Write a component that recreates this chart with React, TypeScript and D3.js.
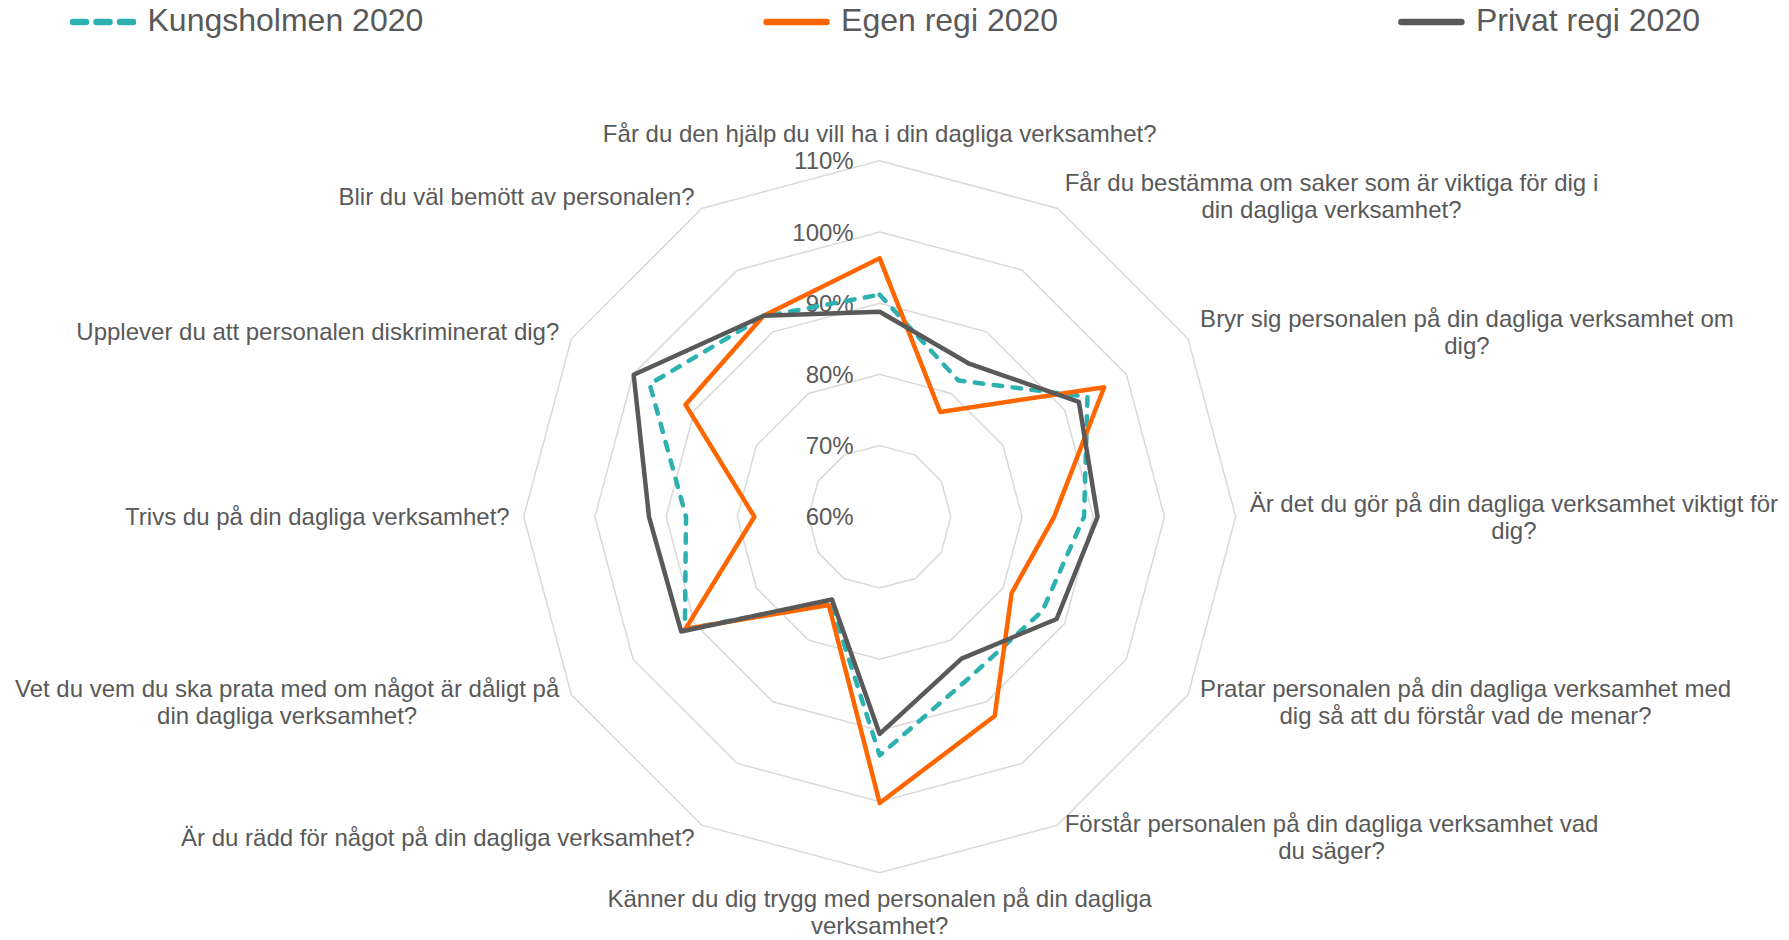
import React, { useEffect, useRef } from "react";
import * as d3 from "d3";

// ---------- data ----------
const categories: string[][] = [
  ["Får du den hjälp du vill ha i din dagliga verksamhet?"],
  ["Får du bestämma om saker som är viktiga för dig i", "din dagliga verksamhet?"],
  ["Bryr sig personalen på din dagliga verksamhet om", "dig?"],
  ["Är det du gör på din dagliga verksamhet viktigt för", "dig?"],
  ["Pratar personalen på din dagliga verksamhet med", "dig så att du förstår vad de menar?"],
  ["Förstår personalen på din dagliga verksamhet vad", "du säger?"],
  ["Känner du dig trygg med personalen på din dagliga", "verksamhet?"],
  ["Är du rädd för något på din dagliga verksamhet?"],
  ["Vet du vem du ska prata med om något är dåligt på", "din dagliga verksamhet?"],
  ["Trivs du på din dagliga verksamhet?"],
  ["Upplever du att personalen diskriminerat dig?"],
  ["Blir du väl bemött av personalen?"],
];

const kungsholmen2020 = [91.2, 82.1, 93.7, 88.7, 86.4, 85.8, 93.5, 73.8, 91.6, 87.2, 97.3, 92.5];
const egenRegi2020 = [96.3, 77.0, 96.4, 84.5, 81.4, 92.3, 100.2, 74.3, 91.5, 77.6, 91.5, 92.6];
const privatRegi2020 = [88.8, 84.9, 92.3, 90.6, 88.7, 83.0, 90.5, 73.4, 92.2, 92.4, 99.9, 92.6];

const seriesNames = ["Kungsholmen 2020", "Egen regi 2020", "Privat regi 2020"];
const tickValues = [60, 70, 80, 90, 100, 110];
const tickLabels = ["60%", "70%", "80%", "90%", "100%", "110%"];

// ---------- style ----------
const W = 1789;
const H = 940;
const CX = 879.7;
const CY = 516.8;
const R = 356;
const FONT = "'Liberation Sans', Arial, sans-serif";
const TEXT = "#595959";
const GRID = "#D9D9D9";
const COLORS = ["#2DB0B0", "#FF6600", "#595959"];
const DASH = ["8.5,10.5", null, null];
const LEGEND_DASH = ["13,10.5", null, null];

export default function App() {
  const ref = useRef<SVGSVGElement | null>(null);

  useEffect(() => {
    const svg = d3.select(ref.current);
    svg.selectAll("*").remove();

    const n = categories.length;
    const step = (2 * Math.PI) / n;
    const r = d3.scaleLinear().domain([60, 110]).range([0, R]);

    svg.append("rect").attr("width", W).attr("height", H).attr("fill", "#fff");

    const g = svg.append("g").attr("transform", `translate(${CX},${CY})`);

    // grid rings
    const ring = d3
      .lineRadial<number>()
      .angle((_, i) => i * step)
      .radius((d) => r(d))
      .curve(d3.curveLinearClosed);

    tickValues
      .filter((t) => t > 60)
      .forEach((t) => {
        g.append("path")
          .attr("d", ring(d3.range(n).map(() => t)) as string)
          .attr("fill", "none")
          .attr("stroke", GRID)
          .attr("stroke-width", 1.5);
      });

    // tick labels
    tickValues.forEach((t, i) => {
      g.append("text")
        .attr("x", -26)
        .attr("y", -r(t))
        .attr("text-anchor", "end")
        .attr("dominant-baseline", "central")
        .attr("font-family", FONT)
        .attr("font-size", 24)
        .attr("fill", TEXT)
        .text(tickLabels[i]);
    });

    // series
    const series = [kungsholmen2020, egenRegi2020, privatRegi2020];
    series.forEach((vals, si) => {
      const p = g
        .append("path")
        .attr("d", ring(vals) as string)
        .attr("fill", "none")
        .attr("stroke", COLORS[si])
        .attr("stroke-width", 4.5)
        .attr("stroke-linejoin", "round")
        .attr("stroke-linecap", si === 0 ? "round" : "butt");
      if (DASH[si]) p.attr("stroke-dasharray", DASH[si] as string);
    });

    // category labels
    const LH = 27;
    const off = R + 14;
    categories.forEach((lines, i) => {
      const a = i * step;
      const s = Math.sin(a);
      const c = Math.cos(a);
      const ax = off * s;
      const ay = -off * c;
      const grp = g.append("g");
      const texts = lines.map((ln) =>
        grp
          .append("text")
          .attr("font-family", FONT)
          .attr("font-size", 24)
          .attr("fill", TEXT)
          .attr("text-anchor", "middle")
          .attr("dominant-baseline", "central")
          .text(ln)
      );
      const w = d3.max(texts, (t) => (t.node() as SVGTextElement).getComputedTextLength()) || 0;
      let xc: number;
      let y0: number;
      if (Math.abs(s) < 0.01) {
        xc = ax;
        y0 = c > 0 ? ay - (lines.length - 1) * LH - LH / 2 : ay + LH / 2 - 1.5;
      } else {
        xc = s > 0 ? ax + w / 2 : ax - w / 2;
        y0 = ay - ((lines.length - 1) * LH) / 2;
      }
      texts.forEach((t, k) => t.attr("x", xc).attr("y", y0 + k * LH));
    });

    // legend
    const lg = svg.append("g");
    const LINE_LEN = 60;
    const GAP = 11;
    const items = seriesNames.map((name, si) => {
      const gi = lg.append("g");
      const txt = gi
        .append("text")
        .attr("font-family", FONT)
        .attr("font-size", 32)
        .attr("fill", TEXT)
        .attr("y", 31)
        .text(name);
      const tw = (txt.node() as SVGTextElement).getComputedTextLength();
      return { gi, txt, tw, si };
    });
    const startX = 73;
    const endX = 1700;
    const totalItems = d3.sum(items, (it) => LINE_LEN + 3.5 + GAP + it.tw);
    const between = (endX - startX - totalItems) / (items.length - 1);
    let x = startX;
    items.forEach((it) => {
      const l = it.gi
        .append("line")
        .attr("x1", x)
        .attr("x2", x + LINE_LEN)
        .attr("y1", 22)
        .attr("y2", 22)
        .attr("stroke", COLORS[it.si])
        .attr("stroke-width", 6.5)
        .attr("stroke-linecap", "round");
      if (LEGEND_DASH[it.si]) l.attr("stroke-dasharray", LEGEND_DASH[it.si] as string);
      it.txt.attr("x", x + LINE_LEN + 3.5 + GAP);
      x += LINE_LEN + 3.5 + GAP + it.tw + between;
    });
  }, []);

  return (
    <svg
      ref={ref}
      width={W}
      height={H}
      style={{ position: "absolute", left: 0, top: 0, display: "block" }}
    />
  );
}
